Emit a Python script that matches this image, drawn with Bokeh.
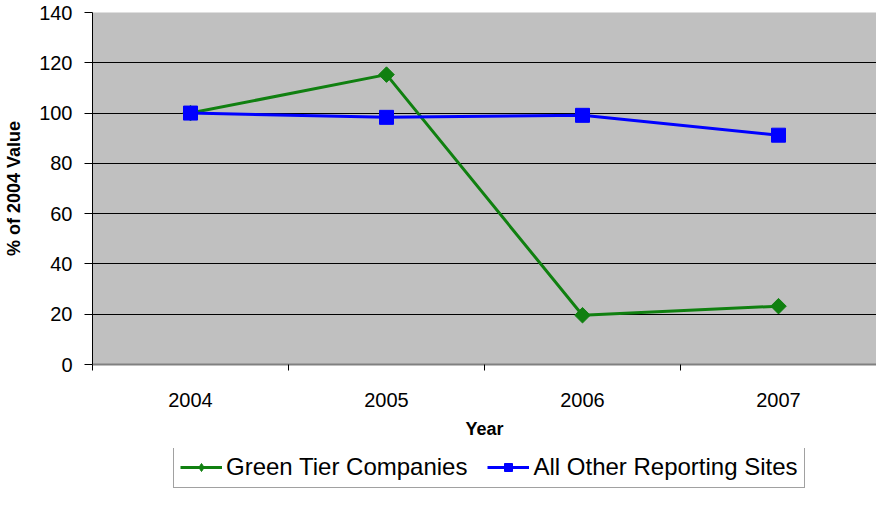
import math
from bokeh.plotting import figure
from bokeh.layouts import column
from bokeh.models import FixedTicker, Legend, LegendItem, ColumnDataSource, Range1d
from bokeh.embed import file_html
from bokeh.resources import INLINE

# ---- data ----
years = [2004, 2005, 2006, 2007]
year_labels = ["2004", "2005", "2006", "2007"]
green_tier = [100.0, 115.3, 19.6, 23.2]
all_other = [100.0, 98.3, 99.1, 91.2]
y_ticks = [0, 20, 40, 60, 80, 100, 120, 140]
series_names = ["Green Tier Companies", "All Other Reporting Sites"]

FONT = "Liberation Sans"
GREEN = "#108010"
BLUE = "#0000ff"

src = ColumnDataSource(dict(year=years, green=green_tier, blue=all_other))

p = figure(width=876, height=448, x_range=(years[0] - 0.5, years[-1] + 0.5),
           y_range=(y_ticks[0], y_ticks[-1]), output_backend="svg",
           toolbar_location=None, min_border_left=92, min_border_right=0,
           min_border_top=12, min_border_bottom=84)

p.background_fill_color = "#c0c0c0"
p.border_fill_color = "white"
p.outline_line_color = None

# x axis
xa = p.xaxis[0]
xa.ticker = FixedTicker(ticks=years, minor_ticks=[y - 0.5 for y in years] + [years[-1] + 0.5])
xa.major_label_overrides = {y: l for y, l in zip(years, year_labels)}
xa.major_tick_out = 0
xa.major_tick_in = 0
xa.minor_tick_out = 6
xa.minor_tick_in = 0
xa.minor_tick_line_color = "black"
xa.axis_line_color = "#808080"
xa.axis_line_width = 2
xa.major_label_text_font = FONT
xa.major_label_text_font_size = "20px"
xa.major_label_text_color = "black"
xa.major_label_standoff = 22
xa.axis_label = "Year"
xa.axis_label_text_font = FONT
xa.axis_label_text_font_size = "18px"
xa.axis_label_text_font_style = "bold"
xa.axis_label_text_color = "black"
xa.axis_label_standoff = 9

# y axis
ya = p.yaxis[0]
ya.ticker = FixedTicker(ticks=y_ticks)
ya.major_tick_out = 8
ya.major_tick_in = 0
ya.minor_tick_out = 0
ya.minor_tick_in = 0
ya.axis_line_color = "black"
ya.major_tick_line_color = "black"
ya.major_label_text_font = FONT
ya.major_label_text_font_size = "20px"
ya.major_label_text_color = "black"
ya.major_label_standoff = 12
ya.axis_label = "% of 2004 Value"
ya.axis_label_text_font = FONT
ya.axis_label_text_font_size = "18px"
ya.axis_label_text_font_style = "bold"
ya.axis_label_text_color = "black"
ya.axis_label_standoff = 12

p.xgrid.grid_line_color = None
p.ygrid.grid_line_color = "black"
p.ygrid.grid_line_width = 1

p.line("year", "green", source=src, line_color=GREEN, line_width=3)
p.scatter("year", "green", source=src, marker="square", size=11,
          angle=math.pi / 4, fill_color=GREEN, line_color=GREEN)
p.line("year", "blue", source=src, line_color=BLUE, line_width=3)
p.scatter("year", "blue", source=src, marker="square", size=14,
          fill_color=BLUE, line_color=BLUE)

# ---- legend strip below the chart ----
q = figure(width=876, height=41, x_range=Range1d(0, 1), y_range=Range1d(0, 1),
           output_backend="svg", toolbar_location=None,
           min_border_left=0, min_border_right=0, min_border_top=0, min_border_bottom=0,
           x_axis_type=None, y_axis_type=None)
q.outline_line_color = None
q.xgrid.grid_line_color = None
q.ygrid.grid_line_color = None
gl = q.line("year", "green", source=src, line_color=GREEN, line_width=3)
gs = q.scatter("year", "green", source=src, marker="diamond", size=14,
               fill_color=GREEN, line_color=GREEN)
bl = q.line("year", "blue", source=src, line_color=BLUE, line_width=3)
bs = q.scatter("year", "blue", source=src, marker="square", size=11,
               fill_color=BLUE, line_color=BLUE)

legend = Legend(items=[LegendItem(label=series_names[0], renderers=[gl, gs]),
                       LegendItem(label=series_names[1], renderers=[bl, bs])],
                orientation="horizontal", location=(81, 1))
legend.label_text_font = FONT
legend.label_text_font_size = "24px"
legend.label_text_color = "black"
legend.border_line_color = "#444444"
legend.border_line_width = 1
legend.background_fill_color = "white"
legend.background_fill_alpha = 1
legend.padding = 6
legend.spacing = 20
legend.glyph_width = 42
legend.glyph_height = 20
legend.label_standoff = 4
legend.margin = 0
q.add_layout(legend, "center")

layout = column(p, q, spacing=0)
open("out.html", "w").write(file_html(layout, INLINE))
